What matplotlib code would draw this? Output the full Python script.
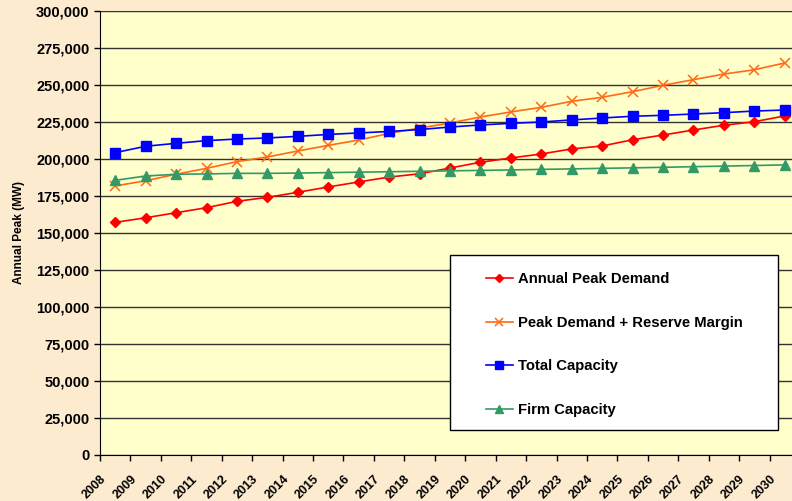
import matplotlib
matplotlib.use('Agg')
import matplotlib.pyplot as plt
from matplotlib.patches import Rectangle

plt.rcParams['font.family'] = ['Liberation Sans', 'DejaVu Sans']
plt.rcParams['font.weight'] = 'bold'

years = [str(y) for y in range(2008, 2031)]

peak_demand = [157200, 160300, 163700, 167100, 171400, 174100, 177500, 181100, 184500,
               187800, 190000, 193900, 197800, 200700, 203400, 206800, 208800, 213000,
               216200, 219600, 222800, 225200, 229100]
peak_reserve = [181800, 185300, 189700, 193700, 198200, 201400, 205400, 209200, 212800,
                217300, 220900, 224300, 228400, 231800, 234900, 239000, 241700, 245500,
                249800, 253600, 257400, 260300, 264900]
total_cap = [204300, 208600, 210600, 212400, 213500, 214200, 215300, 216600, 217600,
             218600, 219900, 221600, 223000, 224100, 225000, 226400, 227700, 228900,
             229500, 230400, 231300, 232400, 233100]
firm_cap = [185600, 188500, 189700, 189900, 190300, 190300, 190500, 190800, 191100,
            191400, 191700, 192000, 192300, 192600, 193000, 193300, 193700, 194000,
            194400, 194800, 195200, 195600, 196000]

W, H = 792, 501
fig = plt.figure(figsize=(W / 100, H / 100), dpi=100, facecolor='#FDEBCF')
ax = fig.add_axes([100 / W, (H - 455) / H, 700 / W, 444 / H])
ax.set_facecolor('#FFFFCC')

x = list(range(len(years)))
ax.plot(x, peak_demand, color='#FF0000', marker='D', ms=5, lw=1.2, label='Annual Peak Demand')
ax.plot(x, peak_reserve, color='#FF6A13', marker='x', ms=6.5, mew=1.1, lw=1.2,
        label='Peak Demand + Reserve Margin')
ax.plot(x, total_cap, color='#0000FF', marker='s', ms=6.5, lw=1.2, label='Total Capacity')
ax.plot(x, firm_cap, color='#339966', marker='^', ms=6.5, lw=1.2, label='Firm Capacity')

ax.set_xlim(-0.5, len(years) - 0.5)
ax.set_ylim(0, 300000)
ax.set_yticks(range(0, 300001, 25000))
ax.set_yticklabels([f'{v:,}' for v in range(0, 300001, 25000)], fontsize=10.5, fontweight='bold')
ax.yaxis.grid(True, color='#333333', lw=1)
ax.set_axisbelow(True)

ax.set_xticks([i - 0.5 for i in x])
ax.set_xticklabels(years, rotation=45, ha='right', rotation_mode='anchor', fontsize=9,
                   fontweight='bold')
ax.tick_params(axis='both', direction='out', length=4, width=1, color='black')
ax.tick_params(axis='x', pad=9)

for s in ['top', 'right']:
    ax.spines[s].set_visible(False)
ax.spines['left'].set_color('black')
ax.spines['bottom'].set_color('black')

ax.set_ylabel('Annual Peak (MW)', fontsize=8.5, fontweight='bold', labelpad=8)

# legend box
fig.patches.append(Rectangle((450 / W, (H - 430) / H), 328 / W, 175 / H,
                             transform=fig.transFigure, facecolor='white',
                             edgecolor='black', lw=1, zorder=5))
leg = fig.legend(loc='upper left', bbox_to_anchor=(486 / W, (H - 272) / H),
                 frameon=False, fontsize=10.7, labelspacing=2.0, handlelength=1.8,
                 handletextpad=0.35, borderaxespad=0, borderpad=0, markerscale=0.8)
leg.set_zorder(6)
for t in leg.get_texts():
    t.set_fontweight('bold')

fig.savefig('out.png', dpi=100, facecolor=fig.get_facecolor())
